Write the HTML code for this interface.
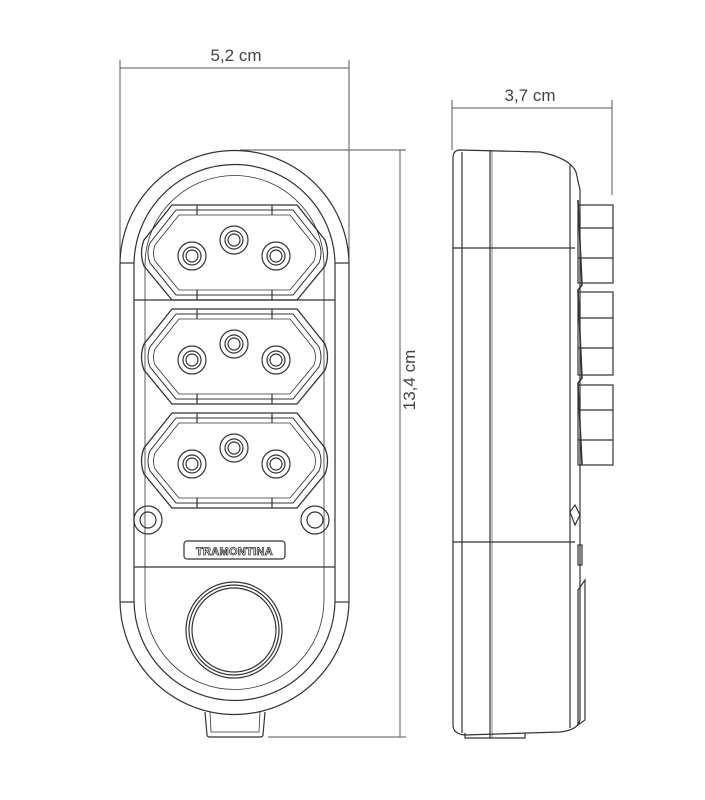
<!DOCTYPE html>
<html><head><style>html,body{margin:0;padding:0;background:#fff}svg{display:block}</style></head>
<body>
<svg width="705" height="800" viewBox="0 0 705 800" xmlns="http://www.w3.org/2000/svg" font-family="Liberation Sans, sans-serif">
<g fill="none" stroke="#333" stroke-width="1.2">
<!-- dimension lines -->
<g stroke="#555" stroke-width="1">
<line x1="120" y1="68" x2="349" y2="68"/><line x1="120" y1="60" x2="120" y2="262"/><line x1="349" y1="60" x2="349" y2="262"/>
<line x1="400" y1="150" x2="400" y2="737"/><line x1="240" y1="150" x2="406" y2="150"/><line x1="268" y1="737" x2="406" y2="737"/>
<line x1="452" y1="108" x2="612" y2="108"/><line x1="452" y1="100" x2="452" y2="150"/><line x1="612" y1="100" x2="612" y2="195"/>
</g>
<!-- front body -->
<path d="M120,265 L120,600 A114.5,114.5 0 0 0 349,600 L349,265 A114.5,114.5 0 0 0 120,265 Z"/>
<path d="M134,265 L134,600 A100.5,100.5 0 0 0 335,600 L335,265 A100.5,100.5 0 0 0 134,265 Z"/>
<path d="M145,265 L145,600 A89.5,89.5 0 0 0 324,600 L324,265 A89.5,89.5 0 0 0 145,265 Z" stroke-width="0.8"/>
<line x1="120" y1="263" x2="134" y2="263"/><line x1="335" y1="263" x2="349" y2="263"/>
<line x1="120" y1="602" x2="134" y2="602"/><line x1="335" y1="602" x2="349" y2="602"/>
<line x1="134" y1="300" x2="335" y2="300"/><line x1="134" y1="567" x2="335" y2="567"/>
<!-- sockets -->
<g id="s">
<path d="M197,205 L272,205 L297,205 L325,240 Q330,253 325,266 L297,300 L172,300 L144,266 Q139,253 144,240 L172,205 Z" stroke-width="1.3"/>
<path d="M199,210 L270,210 L293,210 L319,243 Q323,253 319,263 L293,295 L176,295 L150,263 Q146,253 150,243 L176,210 Z" stroke-width="1"/>
<path d="M201,215 L268,215 L290,215 L314,245 Q317,253 314,261 L290,290 L179,290 L155,261 Q152,253 155,245 L179,215 Z" stroke-width="0.8"/>
<line x1="197" y1="205" x2="197" y2="215"/><line x1="272" y1="205" x2="272" y2="215"/>
<line x1="197" y1="290" x2="197" y2="300"/><line x1="272" y1="290" x2="272" y2="300"/>
<circle cx="192" cy="256" r="14"/><circle cx="192" cy="256" r="9"/><circle cx="192" cy="256" r="6"/>
<circle cx="234" cy="240" r="14"/><circle cx="234" cy="240" r="9"/><circle cx="234" cy="240" r="6"/>
<circle cx="276" cy="256" r="14"/><circle cx="276" cy="256" r="9"/><circle cx="276" cy="256" r="6"/>
</g>
<use href="#s" transform="translate(0,104)"/>
<use href="#s" transform="translate(0,208)"/>
<!-- screw holes -->
<circle cx="148" cy="520" r="14"/><circle cx="148" cy="520" r="8"/>
<circle cx="315" cy="520" r="14"/><circle cx="315" cy="520" r="8"/>
<rect x="184" y="541" width="101" height="18" rx="3"/>
<!-- button -->
<circle cx="234" cy="630" r="48"/><circle cx="234" cy="630" r="45"/><circle cx="234" cy="630" r="42"/>
<!-- tab -->
<path d="M205,712 L207,735 Q207,737 210,737 L260,737 Q263,737 263,735 L265,712"/>
<path d="M210,712 L211,732 L259,732 L260,712" stroke-width="0.8"/>
<!-- side view -->
<path d="M460,150 L540,152 Q570,158 576,172 L580,190 L580,720 Q578,730 560,732 L465,735 Q453,734 453,725 L453,158 Q453,150 460,150 Z"/>
<line x1="462" y1="152" x2="462" y2="733"/>
<line x1="490" y1="150" x2="490" y2="738"/><line x1="492" y1="150" x2="492" y2="738" stroke-width="0.6"/>
<line x1="570" y1="165" x2="570" y2="728"/>
<line x1="453" y1="248" x2="575" y2="248"/><line x1="453" y1="542" x2="575" y2="542"/>
<path d="M465,733 L465,738 L525,738 L525,733"/>
<g>
<rect x="578" y="205" width="35" height="78"/><line x1="578" y1="228" x2="613" y2="228"/><line x1="578" y1="258" x2="613" y2="258"/>
<rect x="578" y="292" width="35" height="83"/><line x1="578" y1="318" x2="613" y2="318"/><line x1="578" y1="348" x2="613" y2="348"/>
<rect x="578" y="385" width="35" height="80"/><line x1="578" y1="410" x2="613" y2="410"/><line x1="578" y1="440" x2="613" y2="440"/>
</g>
<path d="M578,200 L582,285 L578,290 L582,378 L578,383 L582,465" stroke-width="1.6"/>
<path d="M575,505 L570,512 L575,525 L580,515 Z"/>
<rect x="578" y="545" width="4" height="20"/>
<path d="M578,590 L585,580 L585,720 L578,725 Z"/>
</g>
<g fill="#444" font-size="17">
<text x="236" y="61" text-anchor="middle">5,2 cm</text>
<text x="530" y="101" text-anchor="middle">3,7 cm</text>
<text transform="translate(415,380) rotate(-90)" text-anchor="middle">13,4 cm</text>
</g>
<text x="234.5" y="555" text-anchor="middle" font-size="11" font-weight="bold" fill="#fff" stroke="#333" stroke-width="0.8" letter-spacing="0.3">TRAMONTINA</text>
</svg>
</body></html>
